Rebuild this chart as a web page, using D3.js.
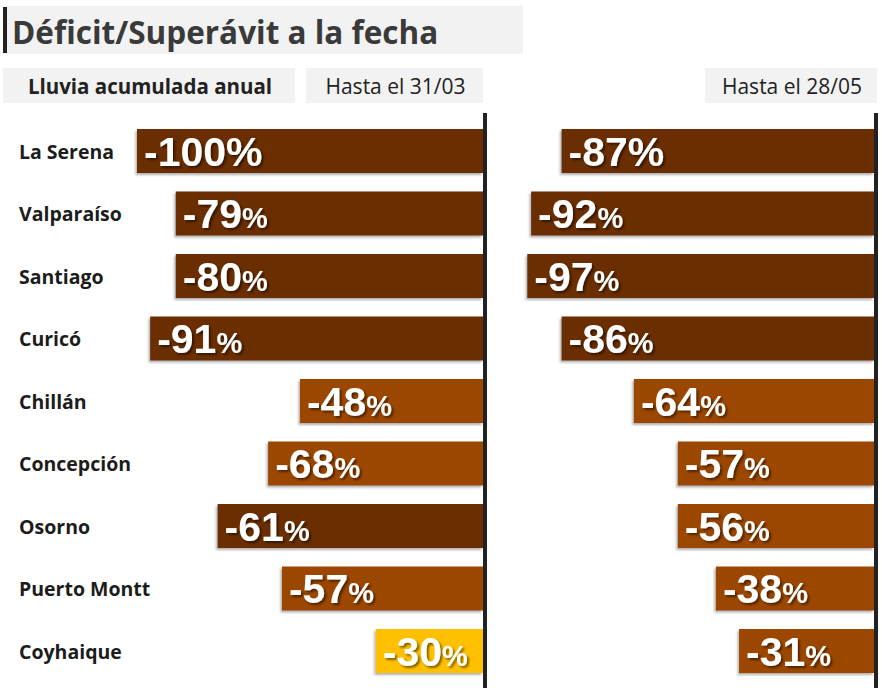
<!DOCTYPE html>
<html>
<head>
<meta charset="utf-8">
<script src="https://cdn.jsdelivr.net/npm/d3@7"></script>
<style>
  html, body { margin: 0; padding: 0; background: #fff; }
  svg { display: block; }
</style>
</head>
<body>
<svg id="chart" width="882" height="688"></svg>
<script>
// ---------- data ----------
const title = "Déficit/Superávit a la fecha";
const rowHeader = "Lluvia acumulada anual";
const panelLabels = ["Hasta el 31/03", "Hasta el 28/05"];
const cities = ["La Serena", "Valparaíso", "Santiago", "Curicó", "Chillán", "Concepción", "Osorno", "Puerto Montt", "Coyhaique"];
// printed values (%)
const valuesLeft  = [-100, -79, -80, -91, -48, -68, -61, -57, -30];
const valuesRight = [-87, -92, -97, -86, -64, -57, -56, -38, -31];
// bar lengths as drawn in the original (percentage-point units)
const barLeft  = [100, 88.8, 88.8, 96.2, 52.9, 62.1, 76.7, 58.1, 31.0];
const barRight = [90.3, 99.1, 100.2, 90.3, 69.4, 56.7, 56.7, 45.7, 39.0];
// severity class of each bar
const classLeft  = ["A", "A", "A", "A", "B", "B", "A", "B", "C"];
const classRight = ["A", "A", "A", "A", "B", "B", "B", "B", "B"];

// ---------- setup ----------
const svg = d3.select("#chart");
const color = d3.scaleOrdinal().domain(["A", "B", "C"]).range(["#6a2e00", "#9c4700", "#ffc000"]);
const labelFont = "'Open Sans', 'Noto Sans', sans-serif";
const numFont = "'Liberation Sans', Arial, sans-serif";

const defs = svg.append("defs");
const ts = defs.append("filter").attr("id", "txtShadow").attr("x", "-10%").attr("y", "-20%").attr("width", "130%").attr("height", "150%");
ts.append("feDropShadow").attr("dx", 2).attr("dy", 2).attr("stdDeviation", 1.2).attr("flood-color", "#000").attr("flood-opacity", 0.5);
const bs = defs.append("filter").attr("id", "barShadow").attr("x", "-5%").attr("y", "-10%").attr("width", "110%").attr("height", "130%");
bs.append("feDropShadow").attr("dx", -1.5).attr("dy", 2).attr("stdDeviation", 1.2).attr("flood-color", "#555").attr("flood-opacity", 0.45);

// ---------- header ----------
svg.append("rect").attr("x", 4).attr("y", 6).attr("width", 519).attr("height", 48).attr("fill", "#f2f2f2");
svg.append("rect").attr("x", 3).attr("y", 7).attr("width", 4).attr("height", 46).attr("fill", "#222");
svg.append("text").attr("x", 12).attr("y", 44).text(title)
  .attr("font-family", labelFont).attr("font-weight", 700).attr("font-size", 31.5).attr("fill", "#3a3a3a");

const headerBoxes = [
  {x: 3, w: 292, text: rowHeader, bold: true, size: 20.5},
  {x: 306, w: 177, text: panelLabels[0], bold: false, size: 21},
  {x: 705, w: 172, text: panelLabels[1], bold: false, size: 21}
];
svg.selectAll("g.hdr").data(headerBoxes).join("g").attr("class", "hdr").each(function(d) {
  const g = d3.select(this);
  g.append("rect").attr("x", d.x).attr("y", 68).attr("width", d.w).attr("height", 35).attr("fill", "#f2f2f2");
  g.append("text").attr("x", d.x + d.w / 2 + 1).attr("y", 94).attr("text-anchor", "middle").text(d.text)
    .attr("font-family", labelFont).attr("font-weight", d.bold ? 700 : 400).attr("font-size", d.size).attr("fill", "#222");
});

// ---------- scales ----------
const y = d3.scaleBand().domain(cities).range([119.75, 682.25]).paddingInner(0.296).paddingOuter(0.148);
const xLeft  = d3.scaleLinear().domain([0, 100]).range([483, 137]);
const xRight = d3.scaleLinear().domain([0, 100]).range([874, 528]);

// category labels
svg.append("g").selectAll("text").data(cities).join("text")
  .attr("x", 19).attr("y", d => y(d) + y.bandwidth() / 2 + 7.5)
  .text(d => d)
  .attr("font-family", labelFont).attr("font-weight", 700).attr("font-size", 19.5).attr("fill", "#1c1c1c");

function panel(xs, bars, vals, cls) {
  const rows = cities.map((c, i) => ({c, i, bar: bars[i], v: vals[i], k: cls[i]}));
  const g = svg.append("g");
  g.selectAll("rect").data(rows).join("rect")
    .attr("x", d => xs(d.bar)).attr("y", d => y(d.c))
    .attr("width", d => xs(0) - xs(d.bar)).attr("height", y.bandwidth())
    .attr("fill", d => color(d.k)).attr("filter", "url(#barShadow)");
  const t = g.selectAll("text").data(rows).join("text")
    .attr("x", d => xs(d.bar) + 7).attr("y", d => y(d.c) + y.bandwidth() / 2 + 14.5)
    .attr("font-family", numFont).attr("font-weight", 700).attr("fill", "#fff")
    .attr("filter", "url(#txtShadow)");
  t.append("tspan").attr("font-size", 41).text(d => d.v);
  t.append("tspan").attr("font-size", d => d.i === 0 ? 41 : 29).text("%");
  g.append("line").attr("x1", xs(0) + 2).attr("x2", xs(0) + 2).attr("y1", 113).attr("y2", 688)
    .attr("stroke", "#222").attr("stroke-width", 4);
}
panel(xLeft, barLeft, valuesLeft, classLeft);
panel(xRight, barRight, valuesRight, classRight);
</script>
</body>
</html>
